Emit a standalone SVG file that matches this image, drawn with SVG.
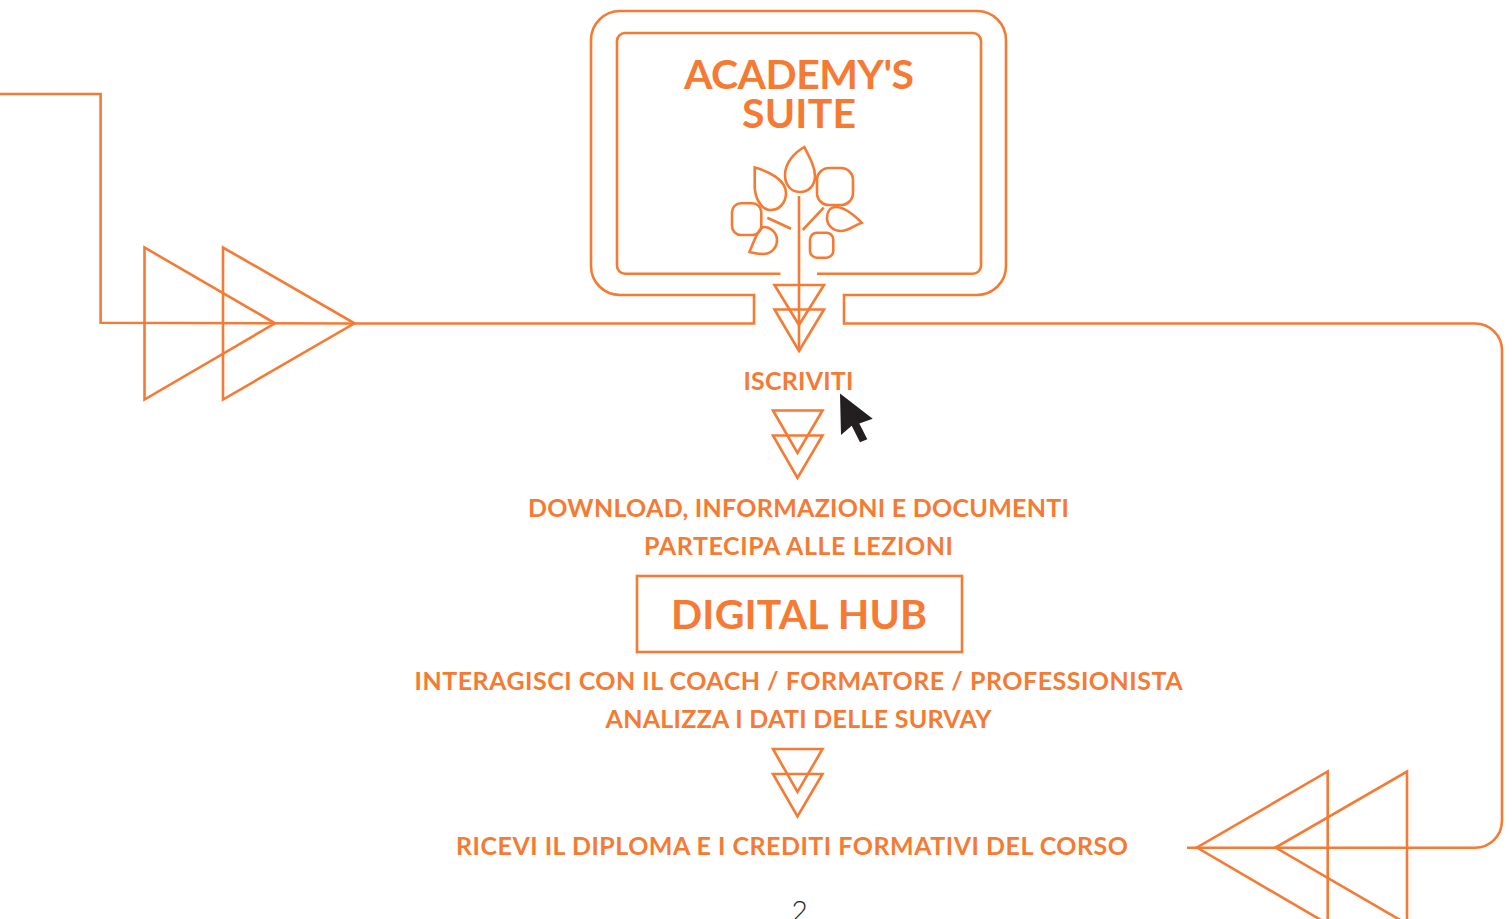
<svg xmlns="http://www.w3.org/2000/svg" width="1512" height="919" viewBox="0 0 1512 919">
<style>
.l{fill:none;stroke:#F57A33;stroke-width:2.6;stroke-linejoin:miter}
.t{font-family:"Lato","Noto Sans",sans-serif;font-weight:700;fill:#F57A33;text-anchor:middle}
.s{font-size:25px}
.b{font-size:41px}
</style>
<rect width="1512" height="919" fill="#fff"/>
<g id="connectors" class="l">
<path d="M0 94H100.6V322.8L356 323.5H754V295H620A29 29 0 0 1 591 266V40A29 29 0 0 1 620 11H977A29 29 0 0 1 1006 40V266A29 29 0 0 1 977 295H844V323.5H1475A27 27 0 0 1 1502 350.5V820.8A27 27 0 0 1 1475 847.8H1187"/>
<path d="M799 196V351"/>
<path d="M144.5 247.5V399.5L275 323.3Z"/>
<path d="M223 247.5V399.5L354.5 323.3Z"/>
<path d="M1327.7 771.5V924L1197 847.5Z"/>
<path d="M1407 771.5V924L1275.5 847.5Z"/>
<path d="M774.5 285H824L799 325Z"/>
<path d="M774.5 309.5H824L799 351Z"/>
<path d="M773 410.5H822.5L797.5 453Z"/>
<path d="M773 435.5H822.5L797.5 478Z"/>
<path d="M773 749H822.5L797.5 792Z"/>
<path d="M773 774H822.5L797.5 816.5Z"/>
</g>
<g id="academy-suite">
<path class="l" d="M780.5 273.7H625A8 8 0 0 1 617 265.7V41A8 8 0 0 1 625 33H973A8 8 0 0 1 981 41V265.7A8 8 0 0 1 973 273.7H817"/>
<text class="t b" x="799" y="88.5" textLength="230">ACADEMY'S</text>
<text class="t b" x="799" y="127.5" textLength="114">SUITE</text>
</g>
<g id="tree" class="l">
<path d="M804.3 147C810 158 815 167 815 176C815 186 808 192 800 192C791 192 785 185 785 175C785 163 794 153 804.3 147Z"/>
<path d="M754.7 167.5C768 171 786 180 786 193C786 203 779 210 771 210C760 210 754.7 196 754.7 186Z"/>
<rect x="817" y="168" width="36" height="37" rx="12"/>
<path d="M861.7 222.7C852 213 843 207 836 207C830 207 827 212 827 218C827 226 834 231 841 231C848 231 853 226 861.7 222.7Z"/>
<rect x="732" y="203.3" width="29.3" height="31.7" rx="9"/>
<path d="M749.5 252C753 243 757 232 761.7 227.7C768 225 777 232 777 240C777 249 770 254 763 254C757 254 753 253 749.5 252Z"/>
<rect x="810" y="232.7" width="23.3" height="25" rx="7"/>
<path d="M767.3 217.7L791 228.7M802.7 230L823.7 207.7"/>
</g>
<g id="iscriviti">
<text class="t s" x="798.5" y="389.5" textLength="110">ISCRIVITI</text>
<path id="cursor" fill="#231F20" d="M840 393.5L872.7 418.7L859.3 423.5L867.3 439.3L860 442.3L851.7 425.7L841 435Z"/>
</g>
<g id="download">
<text class="t s" x="798.5" y="517" textLength="541">DOWNLOAD, INFORMAZIONI E DOCUMENTI</text>
<text class="t s" x="798.5" y="555" textLength="309">PARTECIPA ALLE LEZIONI</text>
</g>
<g id="digital-hub">
<rect class="l" x="637" y="576" width="325" height="76"/>
<text class="t b" x="799" y="628.5" textLength="256">DIGITAL HUB</text>
</g>
<g id="interagisci">
<text class="t s" x="798.5" y="690" textLength="768">INTERAGISCI CON IL COACH / FORMATORE / PROFESSIONISTA</text>
<text class="t s" x="798.5" y="728" textLength="386">ANALIZZA I DATI DELLE SURVAY</text>
</g>
<g id="diploma">
<text class="t s" x="792" y="855" textLength="672">RICEVI IL DIPLOMA E I CREDITI FORMATIVI DEL CORSO</text>
</g>
<text id="page-number" x="799.5" y="921" font-family="Lato,sans-serif" font-weight="300" font-size="28" fill="#231F20" text-anchor="middle">2</text>
</svg>
